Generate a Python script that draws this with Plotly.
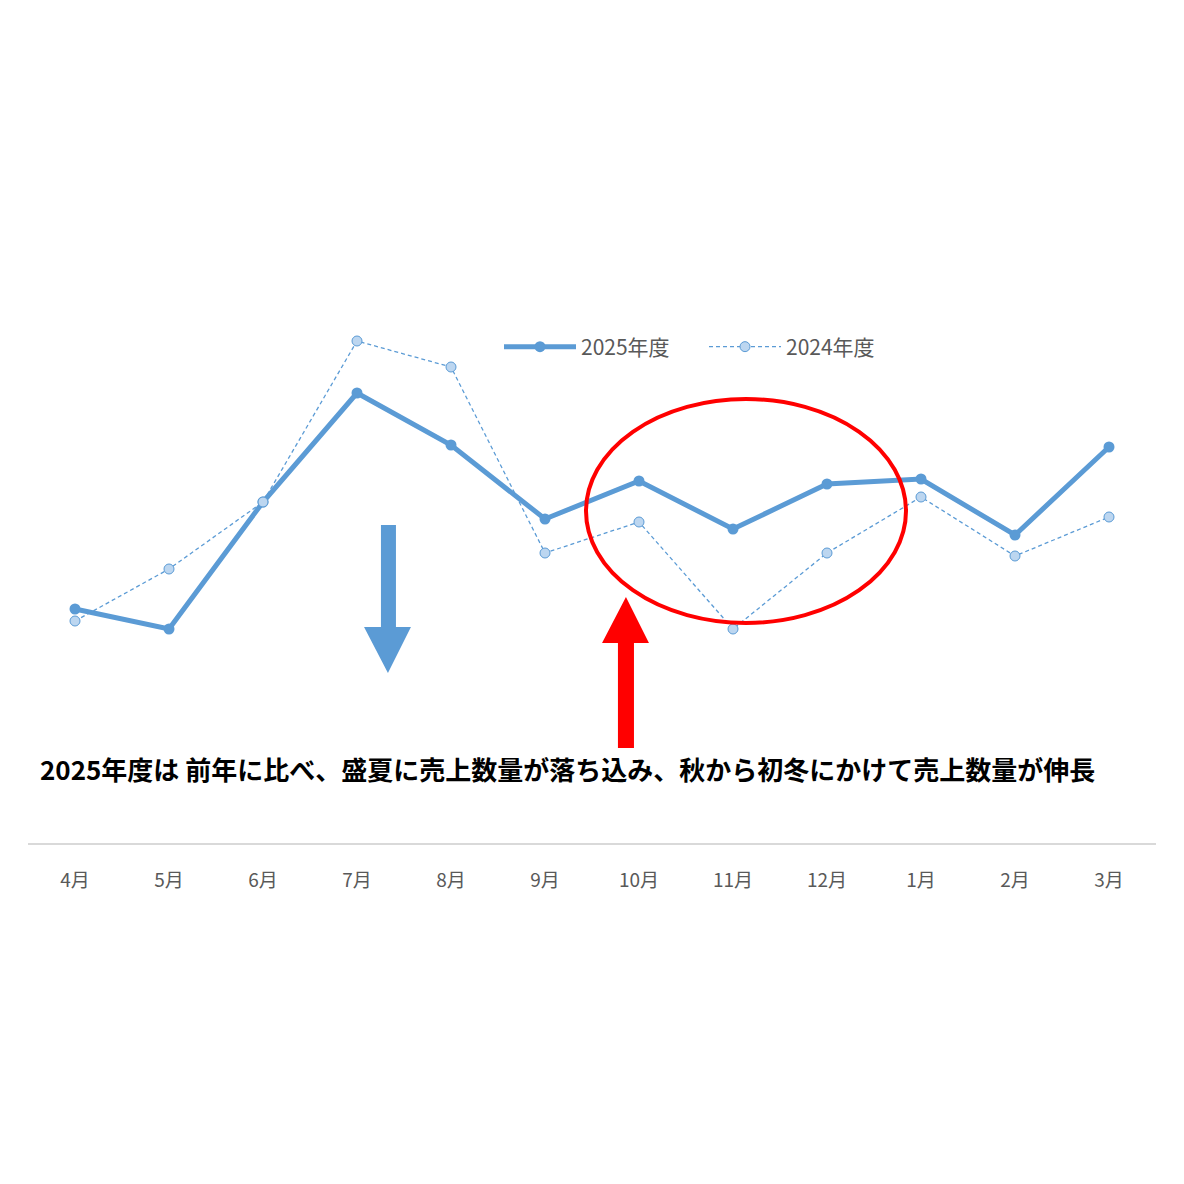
import plotly.graph_objects as go

months = ["4月", "5月", "6月", "7月", "8月", "9月", "10月", "11月", "12月", "1月", "2月", "3月"]
sales_2025 = [391, 371, 498, 607, 555, 481, 519, 471, 516, 521, 465, 553]
sales_2024 = [379, 431, 498, 659, 633, 447, 478, 371, 447, 503, 444, 483]

note = "2025年度は 前年に比べ、盛夏に売上数量が落ち込み、秋から初冬にかけて売上数量が伸長"

BLUE = "#5b9bd5"
FONT = "Noto Sans CJK JP"

# page body margin and resulting figure size in the 1184 window
OFF = 8
FIG = 1184 - 2 * OFF
# plot area in window pixels (left, right, top, bottom)
L, R, T, B = 28, 1156, 100, 843


def px(x, y):
    # window pixel -> paper coordinates
    return (x - L) / (R - L), (B - y) / (B - T)


def poly(points):
    pts = [px(x, y) for x, y in points]
    return "M " + " L ".join(f"{a:.4f},{b:.4f}" for a, b in pts) + " Z"


fig = go.Figure()
fig.add_trace(go.Scatter(
    x=months, y=sales_2025, name="2025年度", mode="lines+markers",
    line=dict(color=BLUE, width=5),
    marker=dict(color=BLUE, size=11),
))
fig.add_trace(go.Scatter(
    x=months, y=sales_2024, name="2024年度", mode="lines+markers",
    line=dict(color=BLUE, width=1.3, dash="4px,3px"),
    marker=dict(color="#bcd6f0", size=10, line=dict(color=BLUE, width=1)),
))

shapes = [
    # blue down arrow
    dict(type="path", xref="paper", yref="paper", fillcolor=BLUE, line=dict(width=0),
         path=poly([(381, 525), (396, 525), (396, 627), (411, 627), (388, 673),
                    (364, 627), (381, 627)])),
    # red up arrow
    dict(type="path", xref="paper", yref="paper", fillcolor="#ff0000", line=dict(width=0),
         path=poly([(618, 748), (634, 748), (634, 643), (649, 643), (626, 597),
                    (602, 643), (618, 643)])),
]
x0, y0 = px(586, 623)
x1, y1 = px(906, 399)
shapes.append(dict(type="circle", xref="paper", yref="paper", x0=x0, y0=y0, x1=x1, y1=y1,
                   line=dict(color="#ff0000", width=4)))

nx, ny = px(38, 768)
fig.add_annotation(x=nx, y=ny, xref="paper", yref="paper", text="<b>" + note + "</b>",
                   showarrow=False, xanchor="left", yanchor="middle",
                   font=dict(family=FONT, size=26, color="#000000"))

lx, ly = px(704, 347)
fig.update_layout(
    shapes=shapes,
    plot_bgcolor="white",
    paper_bgcolor="white",
    margin=dict(l=L - OFF, r=FIG - (R - OFF), t=T - OFF, b=FIG - (B - OFF)),
    font=dict(family=FONT, color="#595959"),
    showlegend=True,
    legend=dict(orientation="h", x=lx, y=ly, xanchor="center", yanchor="middle",
                font=dict(size=21, color="#595959"), itemwidth=72, entrywidth=118,
                bgcolor="rgba(0,0,0,0)"),
)
fig.update_xaxes(type="category", range=[-0.5, 11.5], showline=True, linecolor="#d9d9d9",
                 linewidth=2, showgrid=False, ticks="", tickfont=dict(size=19, color="#595959"),
                 ticklabelstandoff=19)
fig.update_yaxes(range=[1000 - B, 1000 - T], visible=False, showgrid=False, zeroline=False)

fig.write_html("out.html")
